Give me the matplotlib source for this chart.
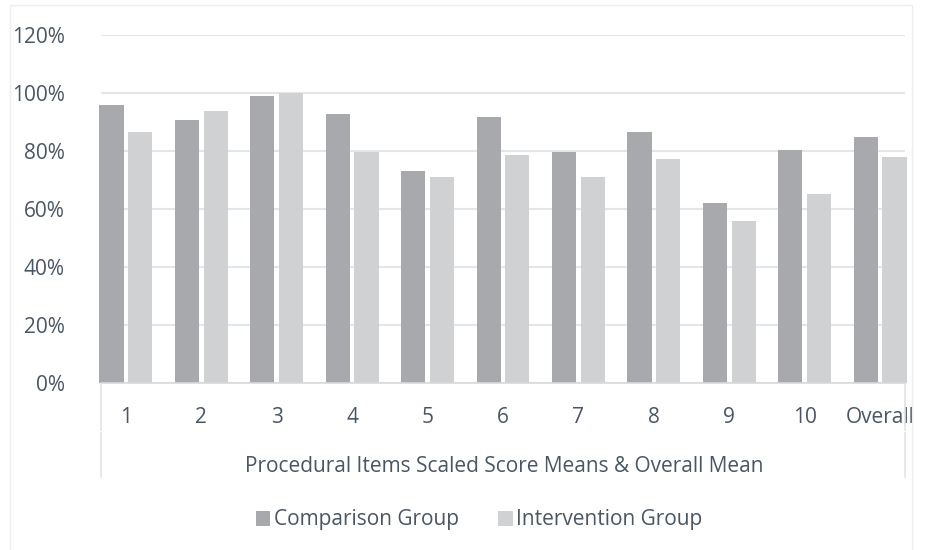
import numpy as np
import matplotlib
matplotlib.use("Agg")
import matplotlib.pyplot as plt
from matplotlib.lines import Line2D
from matplotlib.patches import Rectangle

# Values (percent)
categories = ["1", "2", "3", "4", "5", "6", "7", "8", "9", "10", "Overall"]
comparison = [96, 90.6, 99, 92.7, 73.2, 91.7, 79.5, 86.5, 62, 80.5, 85]
intervention = [86.5, 93.8, 100, 79.6, 71.2, 78.5, 71.2, 77.4, 55.8, 65.3, 77.8]
y_ticks = [0, 20, 40, 60, 80, 100, 120]

text_color = "#4a5565"
comp_color = "#a7a9ac"
int_color = "#d0d1d3"
grid_color = "#e4e7ea"

plt.rcParams["font.family"] = ["Open Sans", "DejaVu Sans"]

fig = plt.figure(figsize=(9.27, 5.5), dpi=100)
W, H = 927, 550
ax = fig.add_axes([101 / W, 1 - 383 / H, (905 - 101) / W, (383 - 35) / H])

x = np.arange(len(categories))
w = 0.32
off = 0.19
ax.bar(x - off, comparison, width=w, color=comp_color, clip_on=False, zorder=3,
       label="Comparison Group")
ax.bar(x + off, intervention, width=w, color=int_color, clip_on=False, zorder=3,
       label="Intervention Group")

ax.set_xlim(-0.33, len(categories) - 1 + 0.33)
ax.set_ylim(0, 120)
ax.set_yticks(y_ticks)
ax.set_yticklabels([f"{t}%" for t in y_ticks], fontsize=15, color=text_color)
ax.yaxis.grid(True, color=grid_color, linewidth=1.5, zorder=0)
ax.set_axisbelow(True)
for s in ax.spines.values():
    s.set_visible(False)
ax.axhline(0, color="#d9d9d9", linewidth=1.2, zorder=4, clip_on=False)
ax.tick_params(axis="y", length=0, pad=26)
ax.tick_params(axis="x", length=0, pad=17)
ax.set_xticks(x)
ax.set_xticklabels(categories, fontsize=15, color=text_color)

# multi-level category axis frame lines
for px in (101, 905):
    fig.add_artist(Line2D([px / W, px / W], [1 - 385 / H, 1 - 430 / H],
                          color="#e3e3e3", linewidth=1.2))
    fig.add_artist(Line2D([px / W, px / W], [1 - 433 / H, 1 - 477 / H],
                          color="#e3e3e3", linewidth=1.2))

fig.text(504 / W, 1 - 466 / H, "Procedural Items Scaled Score Means & Overall Mean",
         ha="center", va="center", fontsize=15, color=text_color)

ax.legend(loc="center", bbox_to_anchor=(479 / W, 1 - 520 / H),
          bbox_transform=fig.transFigure, ncol=2, frameon=False,
          fontsize=15, handlelength=0.7, handleheight=0.7, handletextpad=0.15,
          columnspacing=1.9, labelcolor=text_color)

# faint chart-area border
fig.add_artist(Rectangle((10 / W, -0.01), (912 - 10) / W, 1 - 5 / H + 0.01,
                         transform=fig.transFigure, fill=False,
                         edgecolor="#eeeeee", linewidth=1))

fig.savefig("out.png", dpi=100)
